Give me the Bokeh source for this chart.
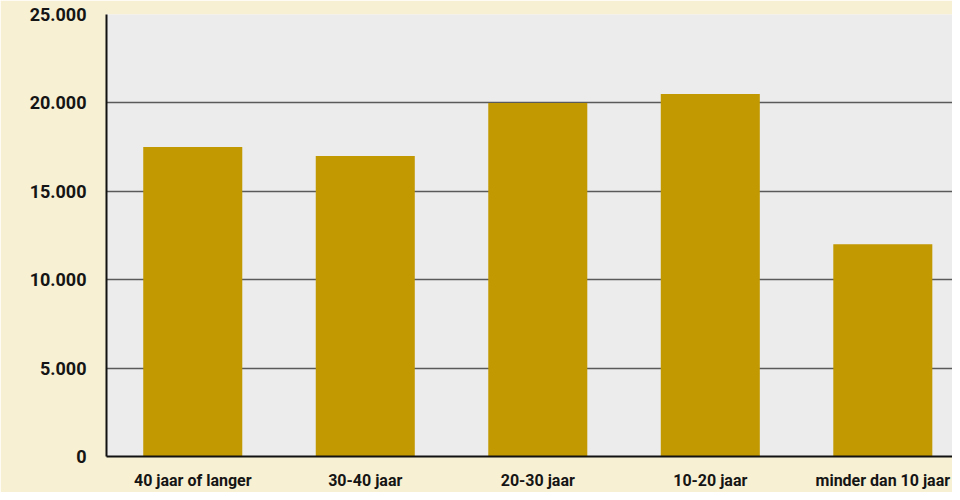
from bokeh.plotting import figure
from bokeh.models import ColumnDataSource, FixedTicker, Range1d
from bokeh.embed import file_html
from bokeh.resources import INLINE

categories = ["40 jaar of langer", "30-40 jaar", "20-30 jaar", "10-20 jaar", "minder dan 10 jaar"]
values = [17500, 17000, 20000, 20500, 12000]
y_ticks = [0, 5000, 10000, 15000, 20000, 25000]
y_tick_labels = ["0", "5.000", "10.000", "15.000", "20.000", "25.000"]

FONT = "Roboto"
CREAM = "#F8F0D2"

src = ColumnDataSource(dict(x=list(range(len(categories))), top=values))

p = figure(width=952, height=492, output_backend="svg", toolbar_location=None,
           x_range=Range1d(-0.5, 4.404), y_range=Range1d(0, 25000),
           min_border_left=106, min_border_right=0, min_border_top=14, min_border_bottom=34)
p.background_fill_color = "#EBECEB"
p.border_fill_color = CREAM
p.outline_line_color = None

p.vbar(x="x", top="top", width=0.574, source=src, fill_color="#C29900", line_color=None)

p.xgrid.grid_line_color = None
p.ygrid.ticker = FixedTicker(ticks=y_ticks)
p.ygrid.grid_line_color = "#5a5a5a"
p.ygrid.grid_line_width = 1.5

p.yaxis.ticker = FixedTicker(ticks=y_ticks)
p.yaxis.major_label_overrides = {t: l for t, l in zip(y_ticks, y_tick_labels)}
p.xaxis.ticker = FixedTicker(ticks=list(range(len(categories))))
p.xaxis.major_label_overrides = {i: c for i, c in enumerate(categories)}

for ax in (p.xaxis, p.yaxis):
    ax.major_tick_line_color = None
    ax.minor_tick_line_color = None
    ax.axis_line_color = "#111111"
    ax.axis_line_width = 2
    ax.major_label_text_font = FONT
    ax.major_label_text_font_style = "bold"
    ax.major_label_text_color = "#151515"

p.yaxis.major_label_text_font_size = "18px"
p.xaxis.major_label_text_font_size = "16px"
p.yaxis.major_label_standoff = 14
p.xaxis.major_label_standoff = 8

open("out.html", "w").write(file_html(p, INLINE))
